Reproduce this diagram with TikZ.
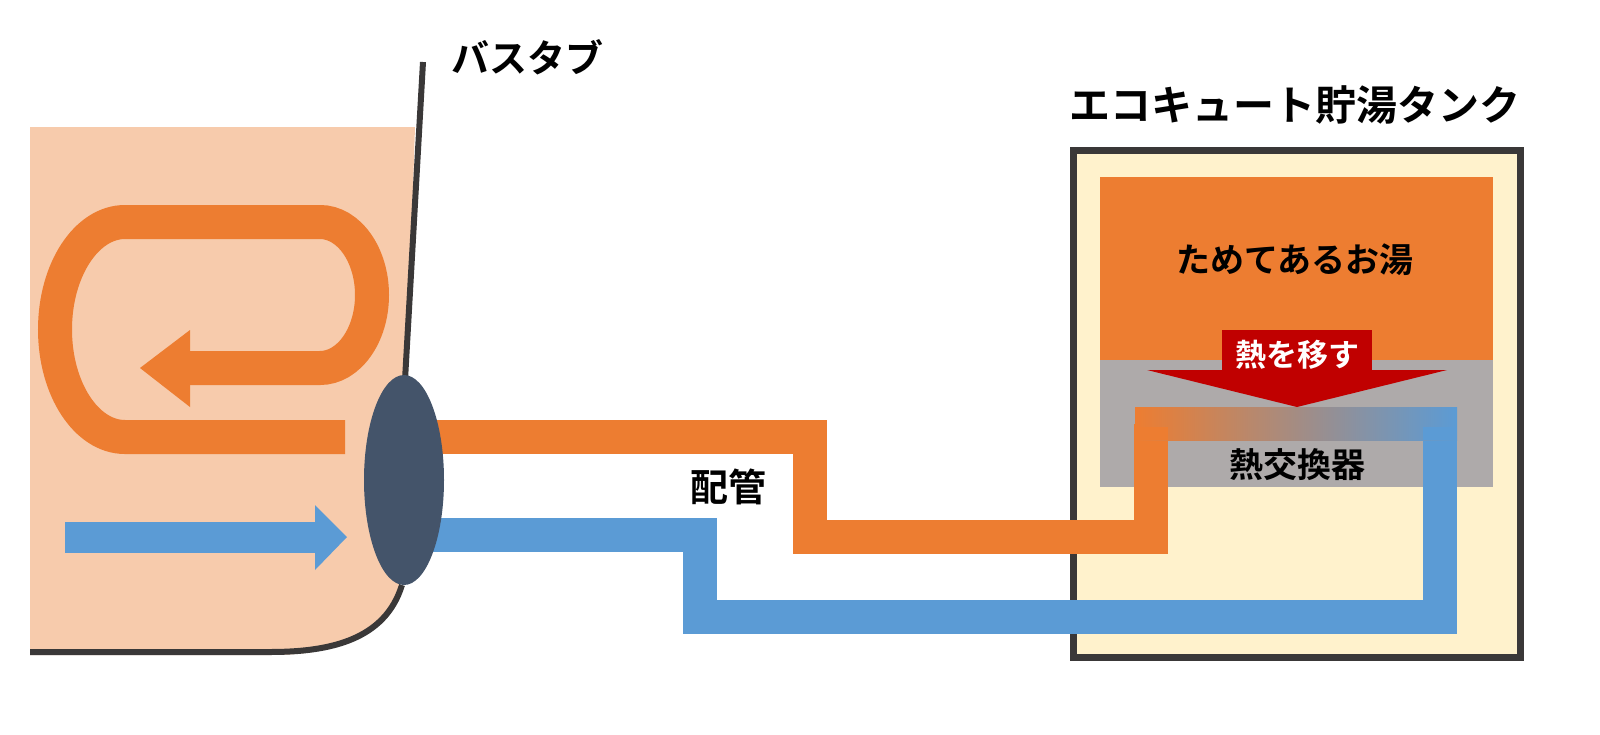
\documentclass[tikz,border=0pt]{standalone}
\usepackage{fontspec}
\newfontfamily\jp{Noto Sans CJK JP}[BoldFont={Noto Sans CJK JP Bold}]
\definecolor{peach}{HTML}{F7CBAC}
\definecolor{org}{HTML}{ED7D31}
\definecolor{blu}{HTML}{5B9BD5}
\definecolor{dk}{HTML}{3A3838}
\definecolor{elc}{HTML}{44546A}
\definecolor{cream}{HTML}{FFF2CC}
\definecolor{gry}{HTML}{AEAAAA}
\definecolor{rd}{HTML}{C00000}
\tikzset{lbl/.style={font=\jp\bfseries, text=black, inner sep=0pt},
 opipe/.style={draw=org, line width=17pt, line join=miter},
 bpipe/.style={draw=blu, line width=17pt, line join=miter},
 wall/.style={draw=dk, line width=3pt}}
\begin{document}
\begin{tikzpicture}[x=0.5pt,y=-0.5pt]
\useasboundingbox (0,0) rectangle (1600,734);
% bathtub water
\fill[peach] (30,127) -- (415,127) -- (400,585) .. controls (385,640) and (330,655) .. (270,655) -- (30,655) -- cycle;
\draw[wall] (423,62) -- (405,380);
\draw[wall] (402,585) .. controls (385,640) and (330,652) .. (270,652) -- (30,652);
% orange loop
\draw[org, line width=17pt] (345,437) -- (125,437) arc[start angle=90, end angle=270, x radius=70, y radius=107.5] -- (320,222) arc[start angle=-90, end angle=90, x radius=52, y radius=73] -- (190,368);
\fill[org] (190,330) -- (140,368) -- (190,407) -- cycle;
% blue arrow
\draw[blu, line width=15.5pt] (65,537) -- (318,537);
\fill[blu] (315,505) -- (347,537) -- (315,570) -- cycle;
% tank
\draw[dk, line width=3.5pt, fill=cream] (1073,150) rectangle (1520,657);
\fill[org] (1100,177) rectangle (1493,360);
\fill[gry] (1100,360) rectangle (1493,487);
% pipes
\draw[opipe] (420,437) -- (810,437) -- (810,537) -- (1151,537) -- (1151,424);
\draw[bpipe] (420,535) -- (700,535) -- (700,617) -- (1440,617) -- (1440,424);
\shade[left color=org, right color=blu] (1135,407) rectangle (1457,440);
\fill[org] (1135,427) rectangle (1168,440);
\fill[blu] (1423,427) rectangle (1457,440);
% ellipse
\fill[elc] (404,480) ellipse[x radius=40, y radius=105];
% red arrow
\node (rd) [fill=rd, minimum width=75pt, minimum height=20pt, inner sep=0pt] at (1297,350) {};
\fill[rd] (1147,370) -- (1447,370) -- (1297,407) -- cycle;
\node[lbl, text=white, font=\jp\bfseries\fontsize{15.5}{18}\selectfont] (t4) at (1297,355) {熱を移す};
% labels
\node[lbl, font=\jp\bfseries\fontsize{19}{22}\selectfont] (t1) at (527,57) {バスタブ};
\node[lbl, font=\jp\bfseries\fontsize{20.5}{24}\selectfont] (t2) at (1295,105) {エコキュート貯湯タンク};
\node[lbl, font=\jp\bfseries\fontsize{17}{20}\selectfont] (t3) at (1295,260) {ためてあるお湯};
\node[lbl, font=\jp\bfseries\fontsize{17}{20}\selectfont] (t5) at (1297,465) {熱交換器};
\node[lbl, font=\jp\bfseries\fontsize{19}{22}\selectfont] (t6) at (728,487) {配管};
\end{tikzpicture}
\end{document}
